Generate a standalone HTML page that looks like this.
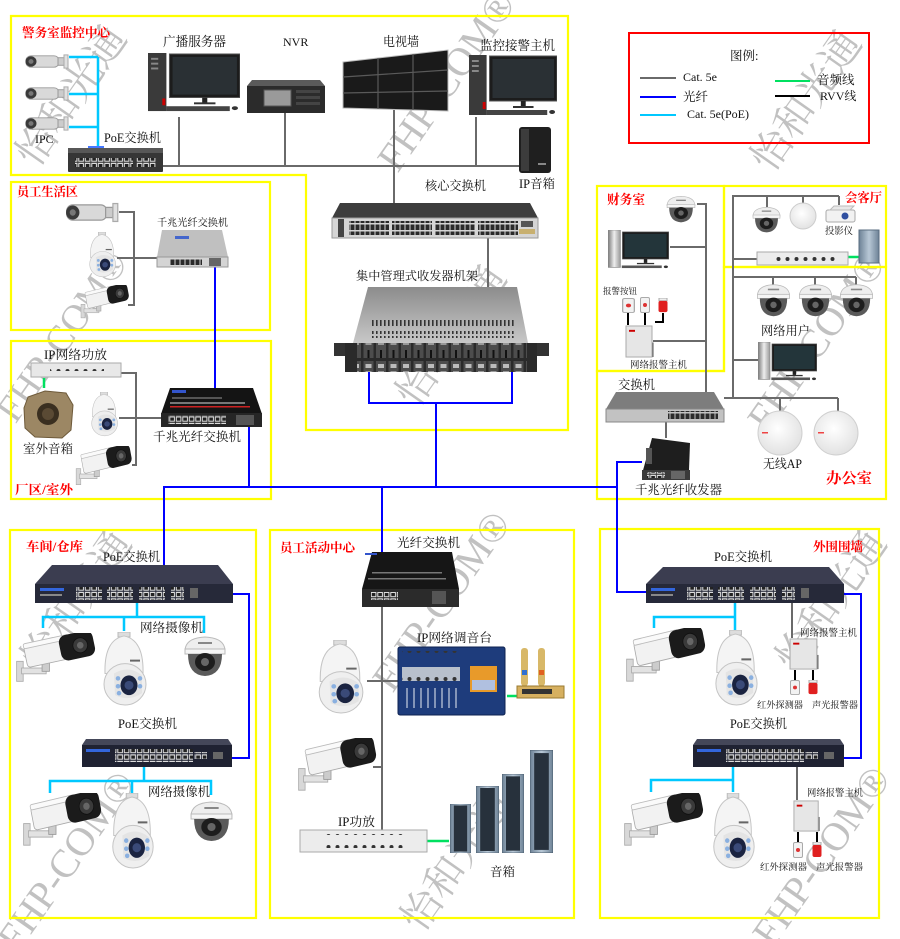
<!DOCTYPE html>
<html><head><meta charset="utf-8">
<style>
html,body{margin:0;padding:0;background:#fff;}
svg{display:block}
text{font-family:"Liberation Serif","Noto Serif CJK SC",serif;fill:#111;}
.r{fill:#ff0000;font-weight:bold;}
.wm{font-family:"Liberation Serif","Noto Serif CJK SC",serif;fill:url(#rb);opacity:.26;}
</style></head>
<body>
<svg width="900" height="939" viewBox="0 0 900 939" xmlns="http://www.w3.org/2000/svg">
<defs>
<linearGradient id="rb" x1="0" y1="0" x2="1" y2="1">
<stop offset="0" stop-color="#f07070"/><stop offset=".3" stop-color="#f0d850"/><stop offset=".55" stop-color="#60d890"/><stop offset=".8" stop-color="#60a8f0"/><stop offset="1" stop-color="#b080e0"/>
</linearGradient>
<linearGradient id="metal" x1="0" y1="0" x2="0" y2="1"><stop offset="0" stop-color="#8c8c8c"/><stop offset="1" stop-color="#c8c8c8"/></linearGradient>
<linearGradient id="silv" x1="0" y1="0" x2="1" y2="0"><stop offset="0" stop-color="#777"/><stop offset=".5" stop-color="#eee"/><stop offset="1" stop-color="#999"/></linearGradient>
<linearGradient id="spk" x1="0" y1="0" x2="1" y2="0"><stop offset="0" stop-color="#6d8296"/><stop offset=".5" stop-color="#b8c8d6"/><stop offset="1" stop-color="#6d8296"/></linearGradient>
<radialGradient id="apg" cx=".45" cy=".4" r=".6"><stop offset="0" stop-color="#ffffff"/><stop offset="1" stop-color="#e2e2e2"/></radialGradient>
<pattern id="wp" width="6.5" height="6.5" patternUnits="userSpaceOnUse"><rect x="0.3" y="0.3" width="5.6" height="5.4" fill="#ddd"/><rect x="1.3" y="1.5" width="3.6" height="3.2" fill="#222"/></pattern>
<pattern id="dp" width="5" height="7" patternUnits="userSpaceOnUse"><rect x="0.5" y="0.5" width="4" height="5.5" fill="#2a2a2a"/></pattern>
<pattern id="vent" width="4" height="8" patternUnits="userSpaceOnUse"><rect x="0" y="0" width="1.6" height="6" fill="#333"/></pattern>
<pattern id="mods" width="12.5" height="30" patternUnits="userSpaceOnUse"><rect x="1" y="1" width="10" height="27" fill="#4d4d4d"/><rect x="3" y="4" width="6" height="4" fill="#bbb"/><rect x="3" y="11" width="6" height="4" fill="#999"/><rect x="5" y="20" width="2" height="8" fill="#111"/></pattern>
<pattern id="dots" width="9" height="14" patternUnits="userSpaceOnUse"><circle cx="4.5" cy="7" r="2" fill="#333"/></pattern>

<symbol id="bul" viewBox="0 0 100 60" preserveAspectRatio="none">
<rect x="2" y="34" width="8" height="24" fill="#d8d8d8" stroke="#aaa"/>
<rect x="8" y="42" width="30" height="7" fill="#e2e2e2" stroke="#aaa"/>
<rect x="33" y="30" width="9" height="16" fill="#ccc" stroke="#999"/>
<g transform="rotate(-12 50 20)">
<rect x="12" y="8" width="56" height="26" rx="4" fill="#f2f2f2" stroke="#aaa"/>
<rect x="12" y="5" width="56" height="6" rx="2" fill="#fafafa" stroke="#bbb"/>
<rect x="55" y="5" width="42" height="31" rx="9" fill="#1b1b1b"/>
<circle cx="80" cy="21" r="9" fill="#3a3a3a" stroke="#111"/>
<circle cx="80" cy="21" r="4" fill="#666"/>
</g>
</symbol>
<symbol id="ipc" viewBox="0 0 46 18" preserveAspectRatio="none">
<rect x="3" y="3" width="33" height="12" rx="5" fill="#d9d9d9" stroke="#999"/>
<circle cx="8" cy="9" r="5.5" fill="#3a3a3a"/>
<circle cx="8" cy="9" r="2.5" fill="#777"/>
<rect x="35" y="5" width="6" height="8" fill="#ccc" stroke="#999"/>
<rect x="41" y="2" width="4" height="14" fill="#e0e0e0" stroke="#aaa"/>
</symbol>
<symbol id="ptz" viewBox="0 0 52 76" preserveAspectRatio="none">
<rect x="20" y="0" width="12" height="5" fill="#ddd" stroke="#bbb"/>
<path d="M7,42 Q6,8 26,4 Q46,8 45,42 Z" fill="#f4f4f4" stroke="#c4c4c4"/>
<circle cx="27" cy="53" r="21" fill="#efefef" stroke="#c4c4c4"/>
<path d="M16,42 Q31,33 44,44 L44,62 Q31,71 17,64 Z" fill="#e4e4e4"/>
<ellipse cx="31" cy="54" rx="8.5" ry="10" fill="#1a2340"/>
<circle cx="31" cy="54" r="4.5" fill="#3a4a78"/>
<circle cx="20" cy="47" r="2.3" fill="#8ab0e0"/><circle cx="20" cy="55" r="2.3" fill="#8ab0e0"/><circle cx="21" cy="62" r="2.3" fill="#8ab0e0"/>
<circle cx="42" cy="47" r="2.3" fill="#8ab0e0"/><circle cx="42" cy="55" r="2.3" fill="#8ab0e0"/>
<rect x="32" y="28" width="10" height="2" fill="#666"/>
</symbol>
<symbol id="dome" viewBox="0 0 46 42" preserveAspectRatio="none">
<path d="M3,16 Q3,3 23,2 Q43,3 43,16 Z" fill="#eee" stroke="#bbb"/>
<rect x="3" y="14" width="40" height="5" fill="#f5f5f5" stroke="#bbb"/>
<rect x="16" y="7" width="14" height="2" fill="#888"/>
<path d="M6,19 Q6,40 23,41 Q40,40 40,19 Z" fill="#5a5a5a"/>
<ellipse cx="23" cy="27" rx="10" ry="9" fill="#1d1d1d"/>
<circle cx="23" cy="27" r="4" fill="#666"/>
</symbol>
<symbol id="pc" viewBox="0 0 90 62" preserveAspectRatio="none">
<rect x="0" y="0" width="18" height="60" fill="#3a3a3a"/>
<rect x="3" y="5" width="7" height="2" fill="#888"/><rect x="3" y="10" width="7" height="2" fill="#888"/><rect x="3" y="15" width="7" height="2" fill="#888"/>
<rect x="14" y="47" width="3" height="7" fill="#c00"/>
<rect x="21" y="1" width="69" height="45" fill="#1c1c1c" stroke="#555"/>
<rect x="24" y="4" width="63" height="39" fill="#2a3034"/>
<rect x="53" y="46" width="5" height="6" fill="#222"/>
<rect x="45" y="51" width="21" height="2" fill="#333"/>
<rect x="18" y="55" width="62" height="5" fill="#444"/>
<ellipse cx="85" cy="57" rx="3" ry="2" fill="#333"/>
</symbol>
<symbol id="pc2" viewBox="0 0 90 62" preserveAspectRatio="none">
<rect x="0" y="0" width="18" height="58" fill="url(#silv)" stroke="#888"/>
<rect x="21" y="3" width="67" height="42" fill="#1c1c1c" stroke="#555"/>
<rect x="24" y="6" width="61" height="36" fill="#23353a"/>
<rect x="52" y="45" width="5" height="6" fill="#222"/>
<rect x="42" y="51" width="25" height="2" fill="#333"/>
<rect x="20" y="55" width="58" height="4" fill="#555"/>
<ellipse cx="84" cy="57" rx="3" ry="2" fill="#333"/>
</symbol>
<symbol id="host" viewBox="0 0 30 34" preserveAspectRatio="none">
<rect x="1" y="1" width="26" height="32" fill="#e6e6e6" stroke="#aaa"/>
<rect x="4" y="5" width="6" height="2" fill="#c00"/>
<line x1="28" y1="18" x2="28" y2="33" stroke="#555"/>
</symbol>
<symbol id="sensor" viewBox="0 0 10 16" preserveAspectRatio="none">
<rect x="0.5" y="0.5" width="9" height="15" rx="1.5" fill="#f2f2f2" stroke="#aaa"/>
<circle cx="5" cy="8" r="2" fill="#d33"/>
</symbol>
<symbol id="siren" viewBox="0 0 10 16" preserveAspectRatio="none">
<rect x="1" y="0" width="8" height="3" fill="#eee" stroke="#aaa"/>
<rect x="0.5" y="3" width="9" height="12" rx="2" fill="#e02020"/>
</symbol>
<symbol id="col" viewBox="0 0 22 100" preserveAspectRatio="none">
<rect x="0" y="0" width="22" height="100" fill="url(#spk)" stroke="#4d5f70"/>
<rect x="4" y="3" width="14" height="94" fill="#27313c"/>
</symbol>
</defs>

<!-- watermarks -->
<g class="wm">
<text x="70" y="110" font-size="40" transform="rotate(-55 70 95)" text-anchor="middle">怡和光通</text>
<text x="445" y="95" font-size="40" transform="rotate(-55 445 80)" text-anchor="middle">FHP-COM®</text>
<text x="805" y="115" font-size="40" transform="rotate(-55 805 100)" text-anchor="middle">怡和光通</text>
<text x="815" y="355" font-size="40" transform="rotate(-55 815 340)" text-anchor="middle">FHP-COM®</text>
<text x="60" y="350" font-size="38" transform="rotate(-55 60 335)" text-anchor="middle">FHP-COM®</text>
<text x="450" y="350" font-size="40" transform="rotate(-55 450 335)" text-anchor="middle">怡和光通</text>
<text x="75" y="615" font-size="40" transform="rotate(-55 75 600)" text-anchor="middle">怡和光通</text>
<text x="65" y="875" font-size="40" transform="rotate(-55 65 860)" text-anchor="middle">FHP-COM®</text>
<text x="440" y="615" font-size="40" transform="rotate(-55 440 600)" text-anchor="middle">FHP-COM®</text>
<text x="455" y="875" font-size="40" transform="rotate(-55 455 860)" text-anchor="middle">怡和光通</text>
<text x="830" y="615" font-size="40" transform="rotate(-55 830 600)" text-anchor="middle">怡和光通</text>
<text x="820" y="870" font-size="40" transform="rotate(-55 820 855)" text-anchor="middle">FHP-COM®</text>
</g>

<!-- yellow region boxes -->
<g fill="none" stroke="#ffff00" stroke-width="2.2">
<path d="M11,16 H568 V430 H306 V175 H11 Z"/>
<rect x="11" y="182" width="259" height="148"/>
<rect x="11" y="341" width="260" height="158"/>
<rect x="597" y="186" width="127" height="185"/>
<rect x="724" y="186" width="162" height="81"/>
<path d="M724,267 H886 V499 H597 V371 H724 Z"/>
<rect x="10" y="530" width="246" height="388"/>
<rect x="270" y="530" width="304" height="388"/>
<rect x="600" y="529" width="279" height="389"/>
</g>

<!-- legend -->
<rect x="629" y="33" width="240" height="110" fill="none" stroke="#ff0000" stroke-width="2"/>
<text x="730" y="60" font-size="12.5">图例:</text>
<line x1="640" y1="78" x2="676" y2="78" stroke="#6a6a6a" stroke-width="2"/>
<text x="683" y="81" font-size="12">Cat. 5e</text>
<line x1="640" y1="97" x2="676" y2="97" stroke="#0000ff" stroke-width="2"/>
<text x="683" y="101" font-size="12.5">光纤</text>
<line x1="640" y1="115" x2="676" y2="115" stroke="#00c8ff" stroke-width="2"/>
<text x="687" y="118" font-size="12">Cat. 5e(PoE)</text>
<line x1="775" y1="81" x2="810" y2="81" stroke="#00e060" stroke-width="2"/>
<text x="817" y="84" font-size="12.5">音频线</text>
<line x1="775" y1="96" x2="810" y2="96" stroke="#000" stroke-width="2"/>
<text x="820" y="100" font-size="12">RVV线</text>

<!-- ============ connection lines ============ -->
<g stroke="#6a6a6a" stroke-width="2" fill="none">
<path d="M160,166 H519"/>
<path d="M179,117 V166 M285,113 V166 M394,110 V203 M476,117 V166"/>
<path d="M488,238 V287"/>
<path d="M119,212 H134 V305 H128 M117,258 H157"/>
<path d="M121,373 H136 V465 H132 M119,418 H161"/>
<path d="M697,204 H706 V392 M670,247 H706 M653,341 H706"/>
<path d="M733,398 V196 H839 M767,196 V207 M803,196 V203 M839,196 V205 M733,259 H757"/>
<path d="M733,277 H856 M773,277 V285 M815,277 V285 M856,277 V285 M733,360 H758"/>
<path d="M724,398 H838 M780,398 V412 M838,398 V412 M666,422 V438"/>
<path d="M382,607 V830 M367,681 H398 M373,767 H382"/>
<path d="M792,603 V638 M797,767 V800"/>
</g>
<g stroke="#0000ff" stroke-width="2" fill="none">
<path d="M164,565 V487 H617 V592 H646"/>
<path d="M617,487 V462 H642"/>
<path d="M249,427 V487 M382,487 V553"/>
<path d="M436,487 V403 M369,372 V403 H512 V372"/>
<path d="M215,267 V388"/>
<path d="M233,594 H249 V758 H232"/>
<path d="M844,594 H861 V758 H844"/>
</g>
<g stroke="#00c8ff" stroke-width="2.5" fill="none">
<path d="M69,57 H98 M69,94 H98 M69,127 H98 M98,57 V148"/>
<path d="M137,603 V617 M43,628 V617 H204 V633 M124,617 V631"/>
<path d="M144,767 V781 M50,793 V781 H211 V795 M132,781 V793"/>
<path d="M735,603 V630 M654,628 V617 H735"/>
<path d="M733,767 V792 M651,792 V780 H733"/>
</g>
<g stroke="#00e060" stroke-width="2.5" fill="none">
<path d="M44,378 V388 M848,257 H859 M507,696 H519 M427,841 H449"/>
</g>
<g stroke="#000" stroke-width="2" fill="none">
<path d="M628,313 V325 M645,313 V325 M663,313 V322 H655"/>
<path d="M795,670 V681 M813,670 V681 M798,832 V843 M817,832 V843"/>
</g>

<!-- ============ top area devices ============ -->
<use href="#ipc" x="23" y="53" width="46" height="17"/>
<use href="#ipc" x="23" y="85" width="46" height="17"/>
<use href="#ipc" x="23" y="115" width="46" height="17"/>
<rect x="68" y="148" width="95" height="24" fill="#363636" rx="1"/>
<rect x="68" y="148" width="95" height="5" fill="#575757"/>
<rect x="88" y="146" width="16" height="2" fill="#4477ff"/>
<rect x="75" y="158" width="58" height="9" fill="url(#wp)"/>
<rect x="136" y="158" width="20" height="9" fill="url(#wp)"/>

<use href="#pc" x="148" y="53" width="92" height="60"/>
<polygon points="252,80 320,80 325,86 247,86" fill="#5a5a5a"/>
<rect x="247" y="86" width="78" height="27" fill="#2b2b2b"/>
<rect x="264" y="90" width="27" height="16" fill="#9a9a9a" stroke="#555"/>
<rect x="296" y="90" width="24" height="3" fill="#444"/><rect x="296" y="96" width="24" height="3" fill="#444"/><rect x="296" y="102" width="24" height="3" fill="#444"/>
<polygon points="343,62 448,50 448,111 343,108" fill="#1a1a1a" stroke="#bbb" stroke-width="1"/>
<g stroke="#5a5a5a" stroke-width="1.2"><line x1="378" y1="58" x2="378" y2="109"/><line x1="413" y1="54" x2="413" y2="110"/><line x1="343" y1="77" x2="448" y2="70"/><line x1="343" y1="93" x2="448" y2="91"/></g>
<use href="#pc" x="469" y="55" width="88" height="62"/>
<rect x="519" y="127" width="32" height="46" rx="3" fill="#1f1f1f"/>
<rect x="521" y="129" width="8" height="42" fill="#3c3c3c"/>
<rect x="538" y="163" width="8" height="2" fill="#888"/>

<!-- core switch -->
<polygon points="340,203 530,203 538,218 332,218" fill="#3d3d3d"/>
<rect x="332" y="218" width="206" height="20" fill="#d5d5d5" stroke="#999" stroke-width="1"/>
<rect x="338" y="219" width="6" height="18" fill="#444"/>
<rect x="349" y="221" width="40" height="14" fill="url(#dp)"/>
<rect x="392" y="221" width="40" height="14" fill="url(#dp)"/>
<rect x="435" y="221" width="40" height="14" fill="url(#dp)"/>
<rect x="478" y="221" width="40" height="14" fill="url(#dp)"/>
<rect x="521" y="221" width="12" height="6" fill="#555"/><rect x="519" y="229" width="16" height="5" fill="#c8b070"/>

<!-- rack -->
<polygon points="368,287 517,287 528,343 353,343" fill="url(#metal)"/>
<rect x="372" y="320" width="142" height="7" fill="url(#vent)"/>
<rect x="370" y="331" width="146" height="7" fill="url(#vent)"/>
<rect x="334" y="343" width="215" height="13" fill="#333"/>
<rect x="345" y="343" width="192" height="29" fill="#2a2a2a"/>
<rect x="357" y="343" width="170" height="29" fill="url(#mods)"/>

<!-- 员工生活区 -->
<use href="#ipc" x="63" y="201" width="56" height="23"/>
<use href="#ptz" x="86" y="232" width="32" height="46"/>
<use href="#bul" x="80" y="285" width="50" height="34"/>
<polygon points="162,230 222,230 228,257 157,257" fill="#c0c0c0"/>
<rect x="157" y="257" width="71" height="10" fill="#d4d4d4" stroke="#999" stroke-width="1"/>
<rect x="170" y="258" width="32" height="7" fill="url(#dp)"/>
<rect x="209" y="258" width="12" height="8" fill="#666"/>
<rect x="175" y="236" width="14" height="3" fill="#4466cc"/>

<!-- 厂区/室外 -->
<rect x="31" y="363" width="90" height="14" fill="#e8e8e8" stroke="#aaa"/>
<rect x="50" y="363" width="54" height="8" fill="url(#dots)"/>
<path d="M28,397 L45,391 L66,393 L73,405 L71,430 L62,438 L35,437 L25,428 L24,408 Z" fill="#9c8764" stroke="#6e5a3a"/>
<circle cx="48" cy="414" r="11" fill="#3a2f20"/>
<circle cx="48" cy="414" r="6" fill="#5a4a34"/>
<use href="#ptz" x="88" y="392" width="32" height="45"/>
<use href="#bul" x="75" y="446" width="58" height="40"/>
<polygon points="170,388 253,388 262,414 161,414" fill="#141414"/>
<rect x="172" y="397" width="50" height="2" fill="#555"/>
<rect x="170" y="402" width="75" height="2" fill="#777"/>
<rect x="170" y="406" width="80" height="1.5" fill="#c22"/>
<rect x="172" y="390" width="14" height="3" fill="#3355cc"/>
<rect x="161" y="413" width="101" height="14" fill="#262626"/>
<rect x="168" y="415" width="58" height="9" fill="url(#wp)"/>
<rect x="236" y="415" width="18" height="10" fill="#555"/>

<!-- 财务室 -->
<use href="#dome" x="665" y="195" width="32" height="28"/>
<use href="#pc2" x="608" y="230" width="62" height="40"/>
<use href="#sensor" x="622" y="298" width="13" height="15"/>
<use href="#sensor" x="640" y="297" width="10" height="16"/>
<use href="#siren" x="658" y="298" width="10" height="15"/>
<use href="#host" x="625" y="325" width="30" height="33"/>

<!-- 会客厅 -->
<use href="#dome" x="751" y="206" width="31" height="27"/>
<circle cx="803" cy="216" r="13" fill="url(#apg)" stroke="#ccc"/>
<rect x="826" y="210" width="29" height="12" rx="2" fill="#f2f2f2" stroke="#aaa"/>
<polygon points="830,210 850,210 854,206 834,206" fill="#e8e8e8" stroke="#bbb"/>
<circle cx="845" cy="216" r="3.5" fill="#3050a0"/>
<rect x="757" y="252" width="91" height="13" fill="#ececec" stroke="#aaa"/>
<rect x="775" y="251.5" width="60" height="13" fill="url(#dots)"/>
<rect x="859" y="230" width="20" height="33" fill="url(#spk)" stroke="#5a6e80"/>

<!-- 办公室 -->
<use href="#dome" x="755" y="283" width="37" height="34"/>
<use href="#dome" x="797" y="283" width="37" height="34"/>
<use href="#dome" x="838" y="283" width="37" height="34"/>
<use href="#pc2" x="758" y="342" width="60" height="40"/>
<polygon points="616,392 714,392 724,409 606,409" fill="#7d7d7d"/>
<rect x="606" y="409" width="118" height="13" fill="#c2c2c2" stroke="#888" stroke-width="1"/>
<rect x="668" y="411" width="50" height="9" fill="url(#dp)"/>
<circle cx="780" cy="433" r="22" fill="url(#apg)" stroke="#d0d0d0"/>
<circle cx="836" cy="433" r="22" fill="url(#apg)" stroke="#d0d0d0"/>
<rect x="762" y="432" width="6" height="1.5" fill="#e44"/><rect x="818" y="432" width="6" height="1.5" fill="#e44"/>
<polygon points="652,438 690,443 689,470 642,474" fill="#1e1e1e"/>
<rect x="646" y="448" width="6" height="16" fill="#555"/>
<rect x="642" y="470" width="48" height="10" fill="#3a3a3a"/>
<rect x="647" y="472" width="18" height="6" fill="url(#wp)"/>
<rect x="671" y="471" width="14" height="8" fill="#666"/>

<!-- ============ 车间/仓库 ============ -->
<polygon points="52,565 218,565 233,584 35,584" fill="#3b3d50"/>
<rect x="35" y="584" width="198" height="19" fill="#262939"/>
<rect x="40" y="588" width="24" height="3" fill="#3366dd"/>
<rect x="40" y="594" width="22" height="2" fill="#888"/>
<rect x="76" y="587" width="26" height="13" fill="url(#wp)"/>
<rect x="107" y="587" width="26" height="13" fill="url(#wp)"/>
<rect x="139" y="587" width="26" height="13" fill="url(#wp)"/>
<rect x="171" y="587" width="13" height="13" fill="url(#wp)"/>
<rect x="190" y="588" width="8" height="10" fill="#666"/>
<use href="#bul" x="15" y="633" width="82" height="50"/>
<use href="#ptz" x="98" y="632" width="52" height="75"/>
<use href="#dome" x="182" y="635" width="46" height="42"/>
<polygon points="86,739 228,739 232,745 82,745" fill="#444759"/>
<rect x="82" y="745" width="150" height="22" fill="#1f2232"/>
<rect x="86" y="749" width="24" height="3" fill="#3366dd"/>
<rect x="115" y="749" width="39" height="13" fill="url(#wp)"/>
<rect x="154" y="749" width="39" height="13" fill="url(#wp)"/>
<rect x="194" y="752" width="13" height="7" fill="url(#wp)"/>
<rect x="213" y="752" width="10" height="7" fill="#666"/>
<use href="#bul" x="22" y="793" width="81" height="54"/>
<use href="#ptz" x="107" y="793" width="50" height="77"/>
<use href="#dome" x="188" y="800" width="47" height="42"/>

<!-- ============ 员工活动中心 ============ -->
<polygon points="372,552 452,552 459,589 362,589" fill="#161616"/>
<rect x="365" y="553" width="12" height="2" fill="#3355cc"/>
<rect x="372" y="572" width="70" height="1.5" fill="#777"/>
<rect x="368" y="578" width="78" height="1.5" fill="#777"/>
<rect x="362" y="589" width="97" height="18" fill="#2b2b2b"/>
<rect x="371" y="592" width="27" height="8" fill="url(#wp)"/>
<rect x="432" y="591" width="14" height="13" fill="#555"/>
<use href="#ptz" x="313" y="640" width="54" height="75"/>
<rect x="398" y="647" width="107" height="68" rx="2" fill="#1e3c7c" stroke="#0e2250"/>
<rect x="402" y="651" width="58" height="12" fill="url(#dots)"/>
<rect x="402" y="667" width="58" height="14" fill="#b8c0cc"/>
<rect x="402" y="668" width="58" height="13" fill="url(#dots)"/>
<g stroke="#c8d0e0" stroke-width="1.2"><path d="M407,688 V708 M414,688 V708 M421,688 V708 M428,688 V708 M435,688 V708 M442,688 V708 M449,688 V708 M456,688 V708"/></g>
<rect x="470" y="666" width="27" height="26" fill="#e89a2a"/>
<rect x="472" y="680" width="23" height="10" fill="#b0c0e0"/>
<rect x="521" y="648" width="7" height="38" rx="3" fill="#d8b868"/>
<rect x="538" y="648" width="7" height="38" rx="3" fill="#d8b868"/>
<rect x="522" y="670" width="5" height="5" fill="#3070d0"/><rect x="539" y="670" width="5" height="5" fill="#e06020"/>
<rect x="517" y="686" width="47" height="12" fill="#d6b060" stroke="#9a7a30"/>
<rect x="522" y="689" width="30" height="5" fill="#333"/>
<use href="#bul" x="297" y="738" width="81" height="54"/>
<rect x="300" y="830" width="127" height="22" fill="#ececec" stroke="#aaa"/>
<rect x="324" y="834" width="80" height="14" fill="url(#dots)"/>
<use href="#col" x="450" y="804" width="21" height="49"/>
<use href="#col" x="476" y="786" width="23" height="67"/>
<use href="#col" x="502" y="774" width="22" height="79"/>
<use href="#col" x="530" y="750" width="23" height="103"/>

<!-- ============ 外围围墙 ============ -->
<polygon points="663,567 829,567 844,584 646,584" fill="#3b3d50"/>
<rect x="646" y="584" width="198" height="19" fill="#262939"/>
<rect x="651" y="588" width="24" height="3" fill="#3366dd"/>
<rect x="651" y="594" width="22" height="2" fill="#888"/>
<rect x="687" y="587" width="26" height="13" fill="url(#wp)"/>
<rect x="718" y="587" width="26" height="13" fill="url(#wp)"/>
<rect x="750" y="587" width="26" height="13" fill="url(#wp)"/>
<rect x="782" y="587" width="13" height="13" fill="url(#wp)"/>
<rect x="801" y="588" width="8" height="10" fill="#666"/>
<use href="#bul" x="625" y="628" width="82" height="55"/>
<use href="#ptz" x="710" y="630" width="51" height="77"/>
<use href="#host" x="789" y="638" width="31" height="32"/>
<use href="#sensor" x="790" y="680" width="10" height="15"/>
<use href="#siren" x="808" y="680" width="10" height="15"/>
<polygon points="697,739 840,739 844,745 693,745" fill="#444759"/>
<rect x="693" y="745" width="151" height="22" fill="#1f2232"/>
<rect x="697" y="749" width="24" height="3" fill="#3366dd"/>
<rect x="726" y="749" width="39" height="13" fill="url(#wp)"/>
<rect x="765" y="749" width="39" height="13" fill="url(#wp)"/>
<rect x="805" y="752" width="13" height="7" fill="url(#wp)"/>
<rect x="824" y="752" width="10" height="7" fill="#666"/>
<use href="#bul" x="623" y="793" width="82" height="54"/>
<use href="#ptz" x="708" y="793" width="50" height="77"/>
<use href="#host" x="793" y="800" width="28" height="32"/>
<use href="#sensor" x="793" y="842" width="10" height="16"/>
<use href="#siren" x="812" y="842" width="10" height="16"/>

<!-- ============ labels ============ -->
<text class="r" x="22" y="37" font-size="12.5" textLength="88" lengthAdjust="spacingAndGlyphs">警务室监控中心</text>
<text x="163" y="46" font-size="13" textLength="63" lengthAdjust="spacingAndGlyphs">广播服务器</text>
<text x="283" y="46" font-size="12">NVR</text>
<text x="383" y="46" font-size="13" textLength="36" lengthAdjust="spacingAndGlyphs">电视墙</text>
<text x="480" y="50" font-size="13" textLength="75" lengthAdjust="spacingAndGlyphs">监控接警主机</text>
<text x="35" y="143" font-size="12">IPC</text>
<text x="104" y="142" font-size="12.5" textLength="57" lengthAdjust="spacingAndGlyphs">PoE交换机</text>
<text x="519" y="188" font-size="12.5" textLength="36" lengthAdjust="spacingAndGlyphs">IP音箱</text>
<text x="425" y="190" font-size="12.5" textLength="61" lengthAdjust="spacingAndGlyphs">核心交换机</text>
<text class="r" x="17" y="196" font-size="12.5" textLength="61" lengthAdjust="spacingAndGlyphs">员工生活区</text>
<text x="157" y="226" font-size="10" textLength="71" lengthAdjust="spacingAndGlyphs">千兆光纤交换机</text>
<text x="356" y="280" font-size="12.2" textLength="122" lengthAdjust="spacingAndGlyphs">集中管理式收发器机架</text>
<text x="44" y="359" font-size="12.5" textLength="63" lengthAdjust="spacingAndGlyphs">IP网络功放</text>
<text x="23" y="453" font-size="12.5" textLength="50" lengthAdjust="spacingAndGlyphs">室外音箱</text>
<text x="153" y="441" font-size="12.5" textLength="88" lengthAdjust="spacingAndGlyphs">千兆光纤交换机</text>
<text class="r" x="15" y="494" font-size="12.5" textLength="58" lengthAdjust="spacingAndGlyphs">厂区/室外</text>

<text class="r" x="607" y="204" font-size="13" textLength="38" lengthAdjust="spacingAndGlyphs">财务室</text>
<text class="r" x="845" y="202" font-size="12.5" textLength="37" lengthAdjust="spacingAndGlyphs">会客厅</text>
<text x="825" y="234" font-size="9.5" textLength="28" lengthAdjust="spacingAndGlyphs">投影仪</text>
<text x="603" y="294" font-size="8.8" textLength="34" lengthAdjust="spacingAndGlyphs">报警按钮</text>
<text x="630" y="368" font-size="9.5" textLength="57" lengthAdjust="spacingAndGlyphs">网络报警主机</text>
<text x="761" y="335" font-size="12.5" textLength="49" lengthAdjust="spacingAndGlyphs">网络用户</text>
<text x="618" y="389" font-size="12.5" textLength="37" lengthAdjust="spacingAndGlyphs">交换机</text>
<text x="763" y="468" font-size="12.5" textLength="39" lengthAdjust="spacingAndGlyphs">无线AP</text>
<text class="r" x="826" y="483" font-size="15" textLength="46" lengthAdjust="spacingAndGlyphs">办公室</text>
<text x="635" y="494" font-size="12.4" textLength="87" lengthAdjust="spacingAndGlyphs">千兆光纤收发器</text>

<text class="r" x="26" y="551" font-size="12.5" textLength="57" lengthAdjust="spacingAndGlyphs">车间/仓库</text>
<text x="103" y="561" font-size="12.5" textLength="57" lengthAdjust="spacingAndGlyphs">PoE交换机</text>
<text x="140" y="632" font-size="12.5" textLength="63" lengthAdjust="spacingAndGlyphs">网络摄像机</text>
<text x="118" y="728" font-size="12.5" textLength="59" lengthAdjust="spacingAndGlyphs">PoE交换机</text>
<text x="148" y="796" font-size="12.5" textLength="62" lengthAdjust="spacingAndGlyphs">网络摄像机</text>

<text class="r" x="280" y="552" font-size="12.5" textLength="75" lengthAdjust="spacingAndGlyphs">员工活动中心</text>
<text x="397" y="547" font-size="12.5" textLength="63" lengthAdjust="spacingAndGlyphs">光纤交换机</text>
<text x="417" y="642" font-size="12.5" textLength="75" lengthAdjust="spacingAndGlyphs">IP网络调音台</text>
<text x="338" y="826" font-size="12.5" textLength="37" lengthAdjust="spacingAndGlyphs">IP功放</text>
<text x="490" y="876" font-size="12.5" textLength="25" lengthAdjust="spacingAndGlyphs">音箱</text>

<text class="r" x="813" y="551" font-size="12.5" textLength="50" lengthAdjust="spacingAndGlyphs">外围围墙</text>
<text x="714" y="561" font-size="12.5" textLength="58" lengthAdjust="spacingAndGlyphs">PoE交换机</text>
<text x="800" y="636" font-size="9.5" textLength="57" lengthAdjust="spacingAndGlyphs">网络报警主机</text>
<text x="757" y="708" font-size="9.2" textLength="46" lengthAdjust="spacingAndGlyphs">红外探测器</text>
<text x="812" y="708" font-size="9.2" textLength="46" lengthAdjust="spacingAndGlyphs">声光报警器</text>
<text x="730" y="728" font-size="12.5" textLength="57" lengthAdjust="spacingAndGlyphs">PoE交换机</text>
<text x="807" y="796" font-size="9.5" textLength="56" lengthAdjust="spacingAndGlyphs">网络报警主机</text>
<text x="760" y="870" font-size="9.2" textLength="47" lengthAdjust="spacingAndGlyphs">红外探测器</text>
<text x="816" y="870" font-size="9.2" textLength="47" lengthAdjust="spacingAndGlyphs">声光报警器</text>
</svg>
</body></html>
